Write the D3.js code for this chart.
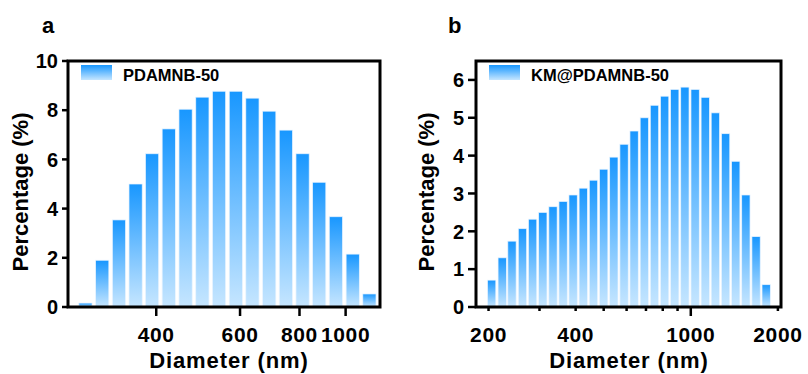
<!DOCTYPE html>
<html>
<head>
<meta charset="utf-8">
<script src="https://cdn.jsdelivr.net/npm/d3@7.9.0/dist/d3.min.js"></script>
<style>
  body { margin: 0; background: #fff; }
  svg text { font-family: "Liberation Sans", Arial, sans-serif; font-weight: bold; fill: #000; }
</style>
</head>
<body>
<svg id="chart" width="808" height="374"></svg>
<script>
// size bins (nm) and percentages
const diametersA = [284, 308, 334, 362, 392, 425, 461, 500, 542, 588, 637, 691, 749, 812, 880, 954, 1035, 1122];
const percentA = [0.16, 1.9, 3.54, 5.0, 6.23, 7.24, 8.04, 8.53, 8.77, 8.77, 8.49, 7.96, 7.19, 6.23, 5.07, 3.67, 2.15, 0.53];

const diametersB = [205, 223, 241, 262, 284, 308, 334, 362, 392, 425, 461, 500, 542, 588, 637, 691, 749, 812, 880, 954, 1035, 1122, 1216, 1319, 1430, 1550, 1681, 1822];
const percentB = [0.71, 1.30, 1.74, 2.07, 2.32, 2.50, 2.65, 2.79, 2.96, 3.14, 3.35, 3.64, 3.96, 4.30, 4.65, 5.0, 5.33, 5.57, 5.75, 5.81, 5.75, 5.54, 5.13, 4.58, 3.85, 2.96, 1.86, 0.59];

const yTicksA = [0, 2, 4, 6, 8, 10];
const xTicksA = [400, 600, 800, 1000];
const yTicksB = [0, 1, 2, 3, 4, 5, 6];
const xLabelsB = [200, 400, 1000, 2000];
const xMinorB = [200, 300, 400, 500, 600, 700, 800, 900, 2000];
const xMajorB = [1000];

const svg = d3.select('#chart');

// shared bar gradient (top saturated blue -> pale at the bottom)
let defs = svg.append('defs');
let grad = defs.append('linearGradient')
  .attr('id', 'barGrad')
  .attr('x1', 0).attr('y1', 0).attr('x2', 0).attr('y2', 1);
grad.append('stop').attr('offset', '0%').attr('stop-color', '#1897ff');
grad.append('stop').attr('offset', '100%').attr('stop-color', '#c6e6ff');

function drawPanel(opts) {
  let g = svg.append('g');
  let x = d3.scaleLog().domain(opts.xDomain).range([opts.left, opts.right]);
  let y = d3.scaleLinear().domain(opts.yDomain).range([opts.bottom, opts.top]);

  // bars
  let step = x(opts.diameters[1]) - x(opts.diameters[0]);
  let bw = step * 0.79;
  g.selectAll('rect.bar')
    .data(opts.diameters)
    .join('rect')
    .attr('class', 'bar')
    .attr('x', d => x(d) - bw / 2)
    .attr('width', bw)
    .attr('y', (d, i) => y(opts.values[i]))
    .attr('height', (d, i) => y(0) - y(opts.values[i]))
    .attr('fill', 'url(#barGrad)')
    .attr('stroke', 'rgba(235,245,255,0.9)')
    .attr('stroke-width', 0.8);

  // frame
  g.append('rect')
    .attr('x', opts.left).attr('y', opts.top)
    .attr('width', opts.right - opts.left)
    .attr('height', opts.bottom - opts.top)
    .attr('fill', 'none')
    .attr('stroke', '#000')
    .attr('stroke-width', 3);

  // y axis
  g.selectAll('line.ytick')
    .data(opts.yTicks)
    .join('line')
    .attr('x1', opts.left - opts.yTickLen).attr('x2', opts.left)
    .attr('y1', d => y(d)).attr('y2', d => y(d))
    .attr('stroke', '#000').attr('stroke-width', 2.5);
  g.selectAll('text.ylab')
    .data(opts.yTicks)
    .join('text')
    .attr('x', opts.left - opts.yTickLen - 4)
    .attr('y', d => y(d))
    .attr('dy', '0.36em')
    .attr('text-anchor', 'end')
    .style('font-size', '20px')
    .text(d => d);

  // x axis ticks
  g.selectAll('line.xmin')
    .data(opts.xMinor)
    .join('line')
    .attr('x1', d => x(d)).attr('x2', d => x(d))
    .attr('y1', opts.bottom).attr('y2', opts.bottom + opts.minorLen)
    .attr('stroke', '#000').attr('stroke-width', 2.5);
  g.selectAll('line.xmaj')
    .data(opts.xMajor)
    .join('line')
    .attr('x1', d => x(d)).attr('x2', d => x(d))
    .attr('y1', opts.bottom).attr('y2', opts.bottom + 9)
    .attr('stroke', '#000').attr('stroke-width', 2.5);
  g.selectAll('text.xlab')
    .data(opts.xLabels)
    .join('text')
    .attr('x', d => x(d))
    .attr('y', opts.bottom + 35)
    .attr('text-anchor', 'middle')
    .style('font-size', '21px')
    .style('letter-spacing', '0.6px')
    .text(d => d);

  // axis titles
  g.append('text')
    .attr('x', opts.xTitleX).attr('y', 368)
    .attr('text-anchor', 'middle')
    .style('font-size', '22px')
    .style('letter-spacing', '0.9px')
    .text('Diameter (nm)');
  g.append('text')
    .attr('transform', `translate(${opts.yTitleX},192) rotate(-90)`)
    .attr('text-anchor', 'middle')
    .style('font-size', '22px')
    .text('Percentage (%)');

  // legend
  g.append('rect')
    .attr('x', opts.left + 13).attr('y', 65)
    .attr('width', 31).attr('height', 15)
    .attr('fill', 'url(#barGrad)');
  g.append('text')
    .attr('x', opts.left + 55).attr('y', 81)
    .style('font-size', '16.5px')
    .text(opts.legend);

  // panel letter
  g.append('text')
    .attr('x', opts.letterX).attr('y', 33)
    .style('font-size', '22px')
    .text(opts.letter);
}

drawPanel({
  left: 68, right: 380, top: 61, bottom: 307,
  xDomain: [261, 1181], yDomain: [0, 10],
  diameters: diametersA, values: percentA,
  yTicks: yTicksA, yTickLen: 6,
  xMinor: [], xMajor: xTicksA, minorLen: 4, xLabels: xTicksA,
  xTitleX: 229, yTitleX: 28,
  legend: 'PDAMNB-50', letter: 'a', letterX: 42
});

drawPanel({
  left: 476, right: 781, top: 61, bottom: 307,
  xDomain: [181, 2050], yDomain: [0, 6.5],
  diameters: diametersB, values: percentB,
  yTicks: yTicksB, yTickLen: 8,
  xMinor: xMinorB, xMajor: xMajorB, minorLen: 4, xLabels: xLabelsB,
  xTitleX: 629, yTitleX: 434,
  legend: 'KM@PDAMNB-50', letter: 'b', letterX: 448
});
</script>
</body>
</html>
